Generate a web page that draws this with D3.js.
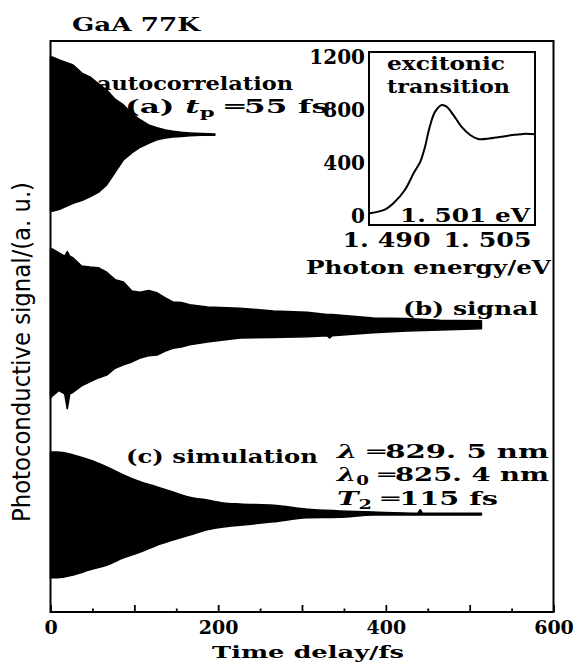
<!DOCTYPE html>
<html><head><meta charset="utf-8">
<script src="https://cdn.jsdelivr.net/npm/d3@7/dist/d3.min.js"></script>
<style>body{margin:0;background:#fff}svg{display:block}</style>
</head><body>
<svg id="chart" width="574" height="663"></svg>
<script>
// ---------- data ----------
const majorTicks = [0,100,200,300,400,500,600];
const minorTicks = [50,150,250,350,450,550];
const labelledTicks = [0,200,400,600];

// (a) autocorrelation envelope
const aTime = [0, 2, 12, 27, 38, 47, 58, 67, 77, 87, 97, 107, 117, 127, 137, 146, 156, 166, 180, 196];
const aHigh = [97.2, 97.2, 96.6, 95.8, 94.3, 93.7, 92.4, 91.4, 89.8, 88.8, 87.3, 86.2, 85.3, 84.8, 84.4, 84.2, 84.0, 83.9, 83.8, 83.7];
const aLow  = [70.4, 70.2, 70.6, 71.6, 72.1, 72.7, 73.6, 74.8, 77.0, 79.2, 80.4, 81.4, 82.1, 82.7, 83.0, 83.2, 83.3, 83.4, 83.5, 83.5];

// (b) measured signal envelope
const bTime = [0, 2, 10, 17, 20, 23, 27, 37, 47, 57, 67, 77, 87, 97, 107, 117, 127, 137, 146, 156, 166, 187, 226, 266, 306, 330, 333, 336, 385, 425, 465, 514];
const bHigh = [63.4, 63.6, 62.9, 62.3, 63.1, 62.3, 62.0, 60.6, 60.4, 60.3, 59.5, 58.2, 57.8, 56.2, 56.0, 56.3, 55.9, 55.0, 54.3, 54.2, 53.8, 53.4, 53.2, 52.7, 52.5, 52.1, 52.1, 52.1, 51.5, 51.4, 51.1, 51.0];
const bLow  = [37.5, 37.8, 38.8, 38.2, 35.6, 38.2, 38.5, 39.6, 40.3, 41.0, 41.5, 42.7, 43.3, 43.8, 44.5, 44.9, 45.0, 45.7, 46.2, 46.4, 46.8, 47.3, 48.0, 48.1, 48.2, 48.4, 48.0, 48.4, 48.9, 49.2, 49.4, 49.6];

// (c) simulation envelope
const cTime = [0, 8, 27, 47, 67, 87, 107, 127, 146, 166, 187, 206, 226, 266, 306, 345, 385, 438, 441, 444, 514];
const cHigh = [28.0, 28.0, 27.5, 26.6, 25.4, 24.0, 22.8, 21.9, 21.0, 20.1, 19.6, 19.1, 18.9, 18.7, 18.0, 17.7, 17.5, 17.3, 17.9, 17.3, 17.3];
const cLow  = [6.0, 6.0, 6.5, 7.4, 8.2, 9.5, 10.5, 11.7, 12.6, 13.5, 14.4, 14.9, 15.2, 15.8, 16.5, 16.6, 17.0, 17.0, 17.0, 17.0, 17.0];

// inset: excitonic transition spectrum
const insetEnergy = [1.4876, 1.4899, 1.4911, 1.4928, 1.4941, 1.4951, 1.4958, 1.4965, 1.4973, 1.4983, 1.4990, 1.5000, 1.5012, 1.5025, 1.5037, 1.5055, 1.5079, 1.5104, 1.5121];
const insetSignal = [20, 50, 96, 196, 322, 409, 522, 673, 786, 836, 823, 761, 673, 610, 580, 585, 603, 618, 615];
const insetYTicks = [0, 400, 800, 1200];
const insetXTicks = [1.490, 1.505];

// ---------- drawing ----------
const svg = d3.select('#chart');
const serif = "'DejaVu Serif', 'Liberation Serif', serif";

const x = d3.scaleLinear().domain([0, 600]).range([50.5, 553.5]);
const y = d3.scaleLinear().domain([0, 100]).range([612, 41]);

function drawTrace(t, hi, lo, curve) {
  const pts = t.map((d, i) => ({t: d, hi: hi[i], lo: lo[i]}));
  const area = d3.area().x(d => x(d.t)).y0(d => y(d.lo)).y1(d => y(d.hi)).curve(curve);
  svg.append('path').datum(pts).attr('d', area)
    .attr('fill', '#000').attr('stroke', '#000').attr('stroke-width', 1.6).attr('stroke-linejoin', 'round');
}
drawTrace(aTime, aHigh, aLow, d3.curveLinear);
drawTrace(bTime, bHigh, bLow, d3.curveLinear);
drawTrace(cTime, cHigh, cLow, d3.curveMonotoneX);

// frame
svg.append('rect').attr('x', x(0)).attr('y', y(100)).attr('width', x(600) - x(0)).attr('height', y(0) - y(100))
  .attr('fill', 'none').attr('stroke', '#000').attr('stroke-width', 2);

// x axis (ticks inward)
const gMajor = svg.append('g').attr('transform', `translate(0,${y(0)})`)
  .call(d3.axisBottom(x).tickValues(majorTicks).tickSizeInner(-7).tickSizeOuter(0)
    .tickFormat(d => labelledTicks.includes(d) ? String(d) : ''));
const gMinor = svg.append('g').attr('transform', `translate(0,${y(0)})`)
  .call(d3.axisBottom(x).tickValues(minorTicks).tickSizeInner(-3.5).tickSizeOuter(0).tickFormat(''));
[gMajor, gMinor].forEach(g => {
  g.select('.domain').remove();
  g.selectAll('line').attr('stroke', '#000').attr('stroke-width', 1.8);
});
gMajor.selectAll('text').attr('y', 9).attr('dy', '0.71em')
  .attr('font-family', serif).attr('font-weight', 'bold').attr('font-size', 19).attr('fill', '#000');

function txt(s, xx, yy, size, len, opts = {}) {
  const t = svg.append('text').attr('x', xx).attr('y', yy)
    .attr('font-family', opts.family || serif).attr('font-weight', opts.weight || 'bold')
    .attr('font-size', size).attr('fill', '#000');
  if (len) t.attr('textLength', len).attr('lengthAdjust', 'spacingAndGlyphs');
  if (opts.anchor) t.attr('text-anchor', opts.anchor);
  return t.text(s);
}

txt('GaA 77K', 72, 31, 19, 128);
txt('Time delay/fs', 212, 658, 17, 192);
txt('autocorrelation', 97, 90, 19, 196);
// (a) t_p = 55 fs
const ta = svg.append('text').attr('x', 125).attr('y', 113).attr('font-family', serif)
  .attr('font-weight', 'bold').attr('font-size', 19).attr('fill', '#000')
  .attr('textLength', 204).attr('lengthAdjust', 'spacingAndGlyphs');
ta.append('tspan').text('(a) ');
ta.append('tspan').attr('font-style', 'italic').text('t');
ta.append('tspan').attr('font-size', 13).attr('dy', 4).text('p');
ta.append('tspan').attr('dy', -4).text(' ═55 fs');

txt('(b) signal', 403, 315, 18, 135);
txt('(c) simulation', 126, 463, 18, 192);

const l1 = svg.append('text').attr('x', 337).attr('y', 458).attr('font-family', serif)
  .attr('font-weight', 'bold').attr('font-size', 18).attr('fill', '#000')
  .attr('textLength', 212).attr('lengthAdjust', 'spacingAndGlyphs');
l1.append('tspan').attr('font-style', 'italic').text('λ');
l1.append('tspan').text(' ═829. 5 nm');
const l2 = svg.append('text').attr('x', 337).attr('y', 481).attr('font-family', serif)
  .attr('font-weight', 'bold').attr('font-size', 18).attr('fill', '#000')
  .attr('textLength', 212).attr('lengthAdjust', 'spacingAndGlyphs');
l2.append('tspan').attr('font-style', 'italic').text('λ');
l2.append('tspan').attr('font-size', 12).attr('dy', 4).text('0');
l2.append('tspan').attr('dy', -4).text(' ═825. 4 nm');
const l3 = svg.append('text').attr('x', 337).attr('y', 505).attr('font-family', serif)
  .attr('font-weight', 'bold').attr('font-size', 18).attr('fill', '#000')
  .attr('textLength', 161).attr('lengthAdjust', 'spacingAndGlyphs');
l3.append('tspan').attr('font-style', 'italic').text('T');
l3.append('tspan').attr('font-size', 12).attr('dy', 4).text('2');
l3.append('tspan').attr('dy', -4).text(' ═115 fs');

// y label
svg.append('text').attr('transform', 'translate(30,352) rotate(-90)')
  .attr('text-anchor', 'middle').attr('font-family', "'Liberation Sans Narrow', 'DejaVu Sans Condensed', 'Liberation Sans', sans-serif")
  .attr('font-size', 25).attr('fill', '#000')
  .attr('textLength', 340).attr('lengthAdjust', 'spacingAndGlyphs')
  .text('Photoconductive signal/(a. u.)');

// ---------- inset ----------
const ix = d3.scaleLinear().domain([1.490, 1.505]).range([386, 487]);
const iy = d3.scaleLinear().domain([0, 1200]).range([216, 56.6]);
const box = {x0: 369, x1: 535, y0: 52, y1: 225};
svg.append('rect').attr('x', box.x0).attr('y', box.y0).attr('width', box.x1 - box.x0).attr('height', box.y1 - box.y0)
  .attr('fill', '#fff').attr('stroke', '#000').attr('stroke-width', 2);
svg.append('clipPath').attr('id', 'ic').append('rect')
  .attr('x', box.x0).attr('y', box.y0).attr('width', box.x1 - box.x0).attr('height', box.y1 - box.y0);
const ipts = insetEnergy.map((e, i) => ({e, s: insetSignal[i]}));
svg.append('path').datum(ipts).attr('clip-path', 'url(#ic)')
  .attr('d', d3.line().x(d => ix(d.e)).y(d => iy(d.s)).curve(d3.curveCatmullRom))
  .attr('fill', 'none').attr('stroke', '#000').attr('stroke-width', 2);

const giy = svg.append('g').attr('transform', `translate(${box.x0},0)`)
  .call(d3.axisLeft(iy).tickValues(insetYTicks).tickSize(0).tickPadding(4).tickFormat(d => String(d)));
giy.select('.domain').remove();
giy.selectAll('text').attr('font-family', serif).attr('font-weight', 'bold').attr('font-size', 20).attr('fill', '#000');

const gix = svg.append('g').attr('transform', `translate(0,${box.y1})`)
  .call(d3.axisBottom(ix).tickValues(insetXTicks).tickSize(0).tickPadding(8).tickFormat(d => d.toFixed(3).replace('.', '. ')));
gix.select('.domain').remove();
gix.selectAll('text').attr('font-family', serif).attr('font-weight', 'bold').attr('font-size', 20).attr('fill', '#000')
  .attr('textLength', 88).attr('lengthAdjust', 'spacingAndGlyphs');

txt('excitonic', 387, 70, 18, 118);
txt('transition', 387, 93, 18, 123);
txt('1. 501 eV', 400, 222, 19, 130);
txt('Photon energy/eV', 306, 274, 18, 245);
</script>
</body></html>
